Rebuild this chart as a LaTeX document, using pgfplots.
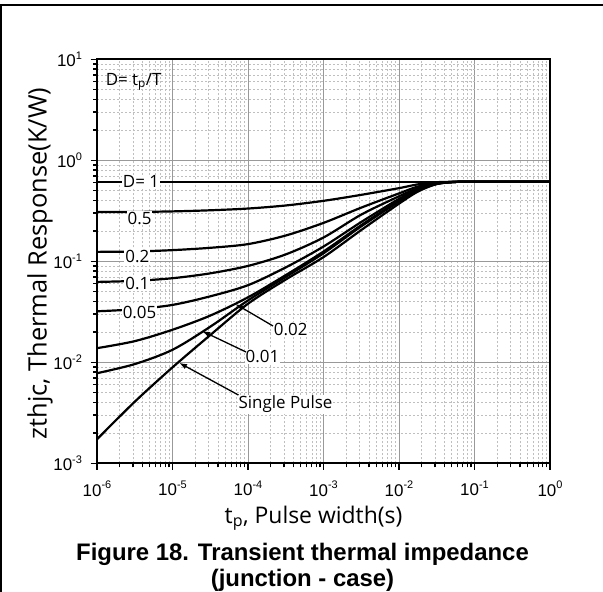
\documentclass[border=0pt]{standalone}
\usepackage{fontspec}
\setmainfont{Liberation Sans}
\newfontfamily\seg{Open Sans}
\usepackage{pgfplots}
\pgfplotsset{compat=1.18}
\usetikzlibrary{arrows.meta}
\newcommand{\tl}[1]{10\raisebox{0.42em}{\fontsize{11}{11}\selectfont #1}}
\begin{document}
\begin{tikzpicture}
\useasboundingbox (0,0) rectangle (603bp,592bp);
\draw[line width=2bp] (0,587bp) -- (603bp,587bp);
\draw[line width=2bp] (1bp,0) -- (1bp,588bp);
\begin{axis}[
 at={(97bp,128.7bp)}, anchor=south west, scale only axis,
 width=453bp, height=404bp,
 xmode=log, ymode=log, xmin=1e-6, xmax=1, ymin=1e-3, ymax=10,
 axis line style={line width=1.8bp},
 xtick={1e-6,1e-5,1e-4,1e-3,1e-2,1e-1,1},
 xticklabels={\tl{-6},\tl{-5},\tl{-4},\tl{-3},\tl{-2},\tl{-1},\tl{0}},
 ytick={1e-3,1e-2,1e-1,1,10},
 yticklabels={\tl{-3},\tl{-2},\tl{-1},\tl{0},\tl{1}},
 tick align=outside, xtick pos=bottom, ytick pos=left,
 major tick length=6.5bp, minor tick length=4bp,
 tick style={black, line width=1.3bp},
 tick label style={font=\fontsize{17}{17}\selectfont},
 xticklabel style={yshift=-8bp},
 yticklabel style={xshift=-5bp},
 grid=both,
 major grid style={black!40, line width=0.9bp},
 minor grid style={black!25, dash pattern=on 2.5bp off 1.5bp, line width=0.6bp},
 xlabel={t\textsubscript{p}, Pulse width(s)},
 xlabel style={font=\seg\fontsize{23}{23}\selectfont, at={(axis description cs:0.478,0)}, anchor=base, yshift=-59.7bp},
 ylabel={zthjc, Thermal Response(K/W)},
 ylabel style={font=\seg\fontsize{25.5}{25.5}\selectfont, at={(axis description cs:-0.111,0.4946)}, anchor=base},
]
\tikzset{crv/.style={black, line width=2.2bp, smooth, tension=0.5, no markers}}
% D = 1
\addplot[crv] coordinates {(1e-6,0.614) (1e-4,0.614) (1e-2,0.614) (1,0.614)};
% D = 0.5
\addplot[crv] coordinates {(1e-6,0.307) (3.162e-6,0.308) (1e-5,0.312) (3.162e-5,0.320) (1e-4,0.333) (3.162e-4,0.357) (1e-3,0.397) (3.162e-3,0.455) (1e-2,0.530) (1.778e-2,0.578) (3.162e-2,0.607) (5.623e-2,0.613) (1e-1,0.614) (1,0.614)};
% D = 0.2
\addplot[crv] coordinates {(1e-6,0.124) (3.162e-6,0.125) (1e-5,0.129) (3.162e-5,0.136) (1e-4,0.148) (3.162e-4,0.180) (1e-3,0.240) (3.162e-3,0.340) (1e-2,0.470) (1.778e-2,0.550) (3.162e-2,0.598) (5.623e-2,0.612) (1e-1,0.614) (1,0.614)};
% D = 0.1
\addplot[crv] coordinates {(1e-6,0.0625) (3.162e-6,0.064) (1e-5,0.068) (3.162e-5,0.076) (1e-4,0.090) (3.162e-4,0.117) (1e-3,0.172) (3.162e-3,0.290) (1e-2,0.440) (1.778e-2,0.530) (3.162e-2,0.592) (5.623e-2,0.611) (1e-1,0.614) (1,0.614)};
% D = 0.05
\addplot[crv] coordinates {(1e-6,0.032) (3.162e-6,0.0335) (1e-5,0.037) (3.162e-5,0.045) (1e-4,0.058) (3.162e-4,0.087) (1e-3,0.140) (3.162e-3,0.245) (1e-2,0.415) (1.778e-2,0.515) (3.162e-2,0.588) (5.623e-2,0.611) (1e-1,0.614) (1,0.614)};
% D = 0.02
\addplot[crv] coordinates {(1e-6,0.0138) (3.162e-6,0.0162) (1e-5,0.021) (3.162e-5,0.029) (1e-4,0.044) (3.162e-4,0.073) (1e-3,0.125) (3.162e-3,0.228) (1e-2,0.400) (1.778e-2,0.505) (3.162e-2,0.585) (5.623e-2,0.611) (1e-1,0.614) (1,0.614)};
% D = 0.01
\addplot[crv] coordinates {(1e-6,0.0078) (3.162e-6,0.0096) (1e-5,0.0133) (3.162e-5,0.0225) (1e-4,0.041) (3.162e-4,0.070) (1e-3,0.120) (3.162e-3,0.222) (1e-2,0.390) (1.778e-2,0.500) (3.162e-2,0.584) (5.623e-2,0.611) (1e-1,0.614) (1,0.614)};
% Single pulse
\addplot[crv] coordinates {(1e-6,0.00173) (3.162e-6,0.00407) (1e-5,0.00891) (3.162e-5,0.0186) (1e-4,0.038) (3.162e-4,0.066) (1e-3,0.110) (3.162e-3,0.204) (1e-2,0.372) (1.778e-2,0.490) (3.162e-2,0.582) (5.623e-2,0.611) (1e-1,0.614) (1,0.614)};

\tikzset{lbl/.style={fill=white, inner sep=1bp, font=\seg\fontsize{17}{17}\selectfont}}
\node[lbl] at (axis cs:3.83e-6,0.614) {D= 1};
\node[lbl] at (axis cs:3.66e-6,0.267) {0.5};
\node[lbl] at (axis cs:3.43e-6,0.111) {0.2};
\node[lbl] at (axis cs:3.43e-6,0.0605) {0.1};
\node[lbl] at (axis cs:3.66e-6,0.031) {0.05};
\node[anchor=west, inner sep=1bp, font=\seg\fontsize{17}{17}\selectfont] at (axis cs:1.26e-6,6.0) {D= t\textsubscript{p}/T};
\node[lbl] at (axis cs:3.68e-4,0.0212) {0.02};
\node[lbl] at (axis cs:1.556e-4,0.01135) {0.01};
\node[lbl] at (axis cs:3.14e-4,0.00384) {Single Pulse};
\draw[-{Latex[length=8bp,width=5.5bp]}, line width=1.3bp] (axis cs:2.14e-4,0.0229) -- (axis cs:6.83e-5,0.0378);
\draw[-{Latex[length=8bp,width=5.5bp]}, line width=1.3bp] (axis cs:9.42e-5,0.01265) -- (axis cs:2.46e-5,0.0204);
\draw[-{Latex[length=8bp,width=5.5bp]}, line width=1.3bp] (axis cs:7.48e-5,0.00474) -- (axis cs:1.22e-5,0.0099);
\end{axis}
\node[font=\bfseries\fontsize{24}{24}\selectfont, anchor=base] at (302.5bp,31.3bp) {Figure 18. Transient thermal impedance};
\node[font=\bfseries\fontsize{24}{24}\selectfont, anchor=base] at (302.5bp,6bp) {(junction - case)};
\end{tikzpicture}
\end{document}
